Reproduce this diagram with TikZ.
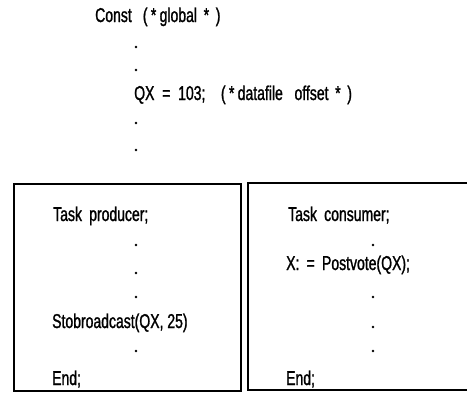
\documentclass[tikz,border=0pt]{standalone}
\usepackage{fontspec}
\setmainfont{Liberation Sans}[FakeStretch=0.70, FakeBold=1.2]
\usepackage{tikz}
\usetikzlibrary{positioning}

\begin{document}
\begin{tikzpicture}[
  x=1pt, y=-1pt,
  code/.style={anchor=base west, inner sep=0pt, font=\fontsize{20}{24}\selectfont},
  frame/.style={draw, line width=1.5pt, inner sep=0pt, anchor=north west},
  dot/.style={radius=1.3pt}
]
  \useasboundingbox (0,0) rectangle (467,400);

  % global constants
  \node[code] (const) at (95,22) {Const \ \,(\,*\,global\,\,*\,\,)};
  \node[code] (qx) at (134,100) {QX \ = \ 103; \ \ \ (\,*\,datafile \ \ offset\,\,*\,\,)};
  \foreach \y in {47,70,123,150}
    \fill (136,\y) circle[dot];

  % producer task
  \node[frame, minimum width=227pt, minimum height=207pt] (prodbox) at (13,183) {};
  \node[code] (prod) at (53,221) {Task \,producer;};
  \node[code] (send) at (52,328) {Stobroadcast(QX, 25)};
  \node[code] (prodend) at (52,385) {End;};
  \foreach \y in {245,273,297,351}
    \fill (136,\y) circle[dot];

  % consumer task
  \coordinate (consl) at (248,183);
  \draw[line width=1.5pt] (467,183) -- (consl) |- (467,390);
  \node[code] (cons) at (288,221) {Task \,consumer;};
  \node[code] (recv) at (286,270) {X: \,=\, Postvote(QX);};
  \node[code] (consend) at (286,385) {End;};
  \foreach \y in {245,297,327,351}
    \fill (373,\y) circle[dot];
\end{tikzpicture}
\end{document}
